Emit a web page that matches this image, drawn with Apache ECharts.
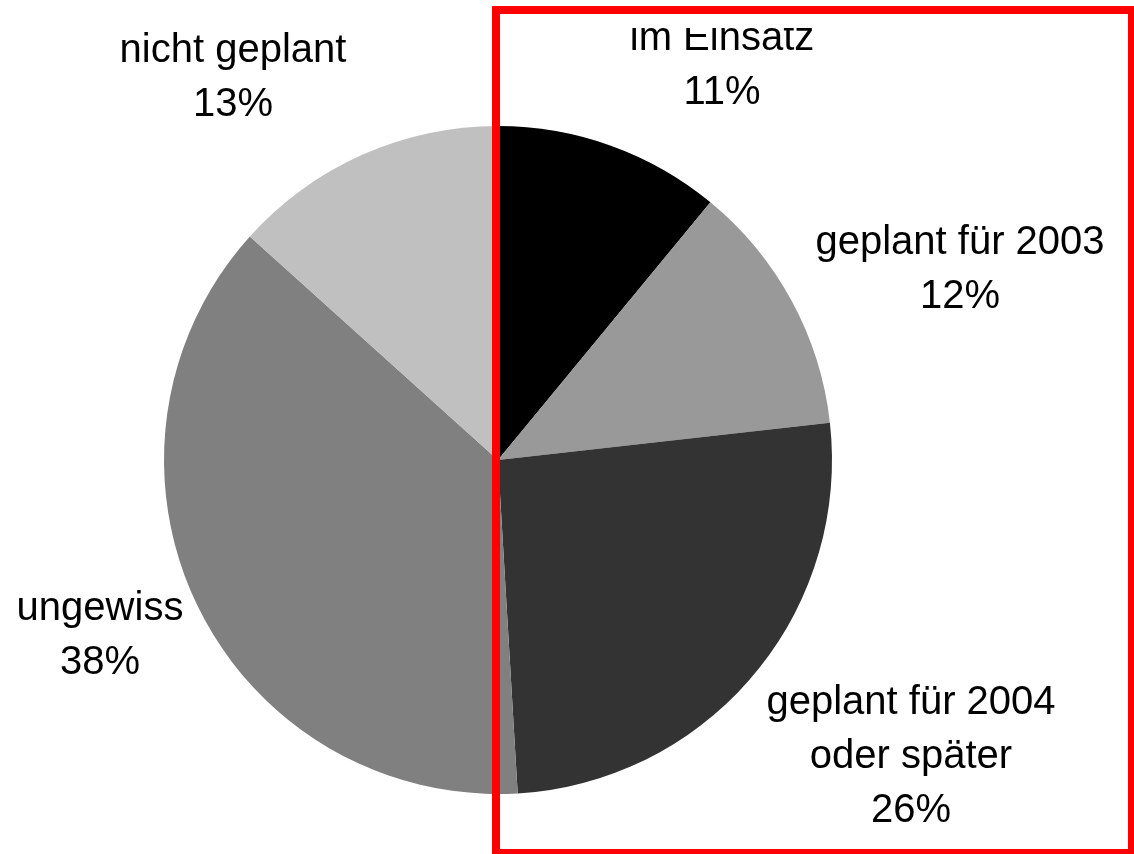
<!DOCTYPE html>
<html>
<head>
<meta charset="utf-8">
<script src="https://cdn.jsdelivr.net/npm/echarts@6/dist/echarts.min.js"></script>
<style>
  html, body { margin: 0; padding: 0; background: #ffffff; }
  #chart { width: 1134px; height: 854px; }
</style>
</head>
<body>
<div id="chart"></div>
<script>
// Data (clockwise from 12 o'clock)
const categories = ['im Einsatz', 'geplant für 2003', 'geplant für 2004\noder später', 'ungewiss', 'nicht geplant'];
const shares = [10.97, 12.25, 25.84, 37.61, 13.33];

// Styling (kept separate from data)
const sliceColors = ['#000000', '#999999', '#333333', '#808080', '#c0c0c0'];
const labelCenters = [[722, 66], [960, 270], [911, 757], [100, 636], [233, 78]];

const chart = echarts.init(document.getElementById('chart'), null, { renderer: 'canvas' });

chart.setOption({
  animation: false,
  backgroundColor: '#ffffff',
  series: [{
    type: 'pie',
    center: [498, 460],
    radius: 334,
    startAngle: 90,
    clockwise: true,
    percentPrecision: 0,
    avoidLabelOverlap: false,
    data: categories.map((name, i) => ({
      name: name,
      value: shares[i],
      itemStyle: { color: sliceColors[i] }
    })),
    itemStyle: { borderWidth: 0 },
    label: {
      show: true,
      position: 'outside',
      formatter: '{b}\n{d}%',
      fontFamily: 'Liberation Sans, Arial, sans-serif',
      fontSize: 40,
      lineHeight: 54,
      color: '#000000',
      align: 'center'
    },
    labelLine: { show: false },
    labelLayout: function (params) {
      const p = labelCenters[params.dataIndex];
      return { x: p[0], y: p[1], align: 'center', verticalAlign: 'middle' };
    },
    emphasis: { disabled: true }
  }],
  graphic: [
    {
      type: 'rect',
      z: 100,
      shape: { x: 500, y: 14, width: 628, height: 14 },
      style: { fill: '#ffffff' }
    },
    {
      type: 'rect',
      z: 101,
      shape: { x: 496, y: 10, width: 636, height: 843 },
      style: { fill: 'none', stroke: '#ff0000', lineWidth: 8 }
    }
  ]
});
</script>
</body>
</html>
